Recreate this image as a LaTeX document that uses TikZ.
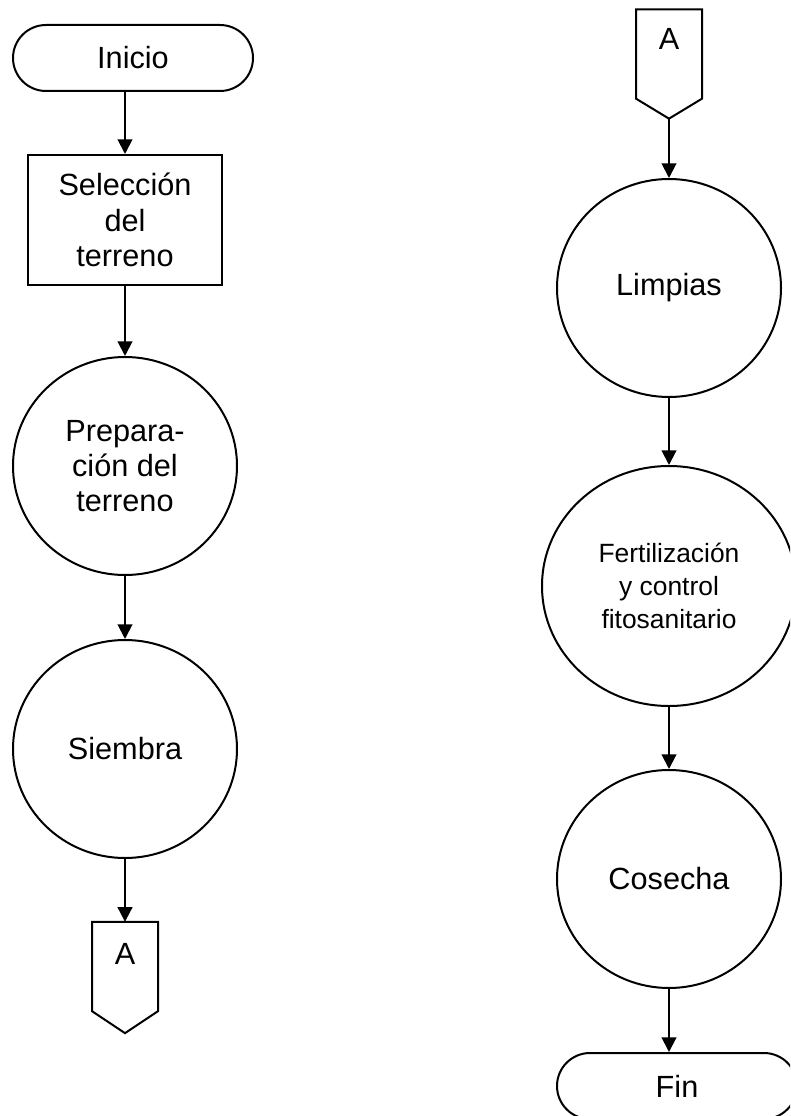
\documentclass[tikz,border=0pt]{standalone}
\usepackage{fontspec}
\setmainfont{Liberation Sans}
\usetikzlibrary{shapes.misc,shapes.geometric,arrows.meta,calc}
\begin{document}
\begin{tikzpicture}[x=0.75pt,y=-0.75pt,
  line width=1.5pt,
  base/.style={font=\fontsize{23}{26.5}\selectfont, align=center, inner sep=0pt},
  term/.style={base, draw, rounded rectangle, minimum width=180pt, minimum height=49.5pt},
  procbox/.style={base, draw, rectangle, minimum width=145.5pt, minimum height=97.5pt},
  circ/.style={base, draw, ellipse, minimum width=168pt, minimum height=163.5pt},
  conn/.style={rectangle, inner sep=0pt, minimum width=48pt, minimum height=65.5pt},
  small/.style={font=\fontsize{19.8}{24.5}\selectfont},
  flow/.style={-{Triangle[length=11pt,width=11pt]}}
]
\useasboundingbox (0,0) rectangle (790,1116);
\begin{scope}
\clip (0,0) rectangle (790,1116);
% left column
\node[term] (inicio) at (133,58) {Inicio};
\node[procbox, text depth=-6pt] (sel) at (125,220) {Selección\\del\\terreno};
\node[circ] (prep) at (125,466) {Prepara-\\ción del\\terreno};
\node[circ] (siem) at (125,749) {Siembra};
\node[conn] (ca) at (125,966.5) {};
\coordinate (capt) at ($(ca.south)+(0,22)$);
\draw (ca.south west) -- (ca.north west) -- (ca.north east) -- (ca.south east) -- (capt) -- cycle;
\node[base] (calbl) at ($(ca.north)+(0,32)$) {A};
% right column
\node[conn] (cb) at (669,54) {};
\coordinate (cbpt) at ($(cb.south)+(0,20)$);
\draw (cb.south west) -- (cb.north west) -- (cb.north east) -- (cb.south east) -- (cbpt) -- cycle;
\node[base] (cblbl) at ($(cb.north)+(0,30)$) {A};
\node[circ] (limp) at (669,288) {Limpias};
\node[circ, small, minimum width=190.5pt, minimum height=180pt] (fert) at (669,586) {Fertilización\\y control\\fitosanitario};
\node[circ] (cos) at (669,879) {Cosecha};
\node[term] (fin) at (677,1086) {Fin};
% connectors
\draw[flow] (sel.north |- inicio.south) -- (sel.north);
\draw[flow] (sel.south) -- (prep.north);
\draw[flow] (prep.south) -- (siem.north);
\draw[flow] (siem.south) -- (ca.north);
\draw[flow] (cbpt) -- (limp.north);
\draw[flow] (limp.south) -- (fert.north);
\draw[flow] (fert.south) -- (cos.north);
\draw[flow] (cos.south) -- (fin.north -| cos.south);
\end{scope}
\end{tikzpicture}
\end{document}
